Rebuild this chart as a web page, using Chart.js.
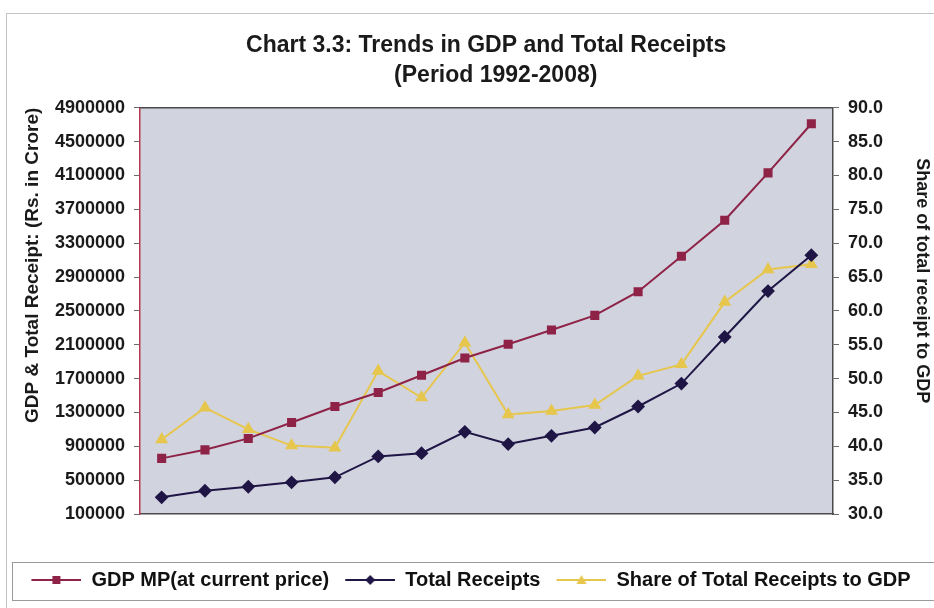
<!DOCTYPE html>
<html>
<head>
<meta charset="utf-8">
<script src="https://cdn.jsdelivr.net/npm/chart.js@4"></script>
<style>
  html, body { margin: 0; padding: 0; background: #fff; }
  #wrap { width: 934px; height: 608px; }
</style>
</head>
<body>
<div id="wrap"><canvas id="gdpChart" width="934" height="608"></canvas></div>
<script>
// data
var years = ['1992-93', '1993-94', '1994-95', '1995-96', '1996-97', '1997-98', '1998-99', '1999-00',
             '2000-01', '2001-02', '2002-03', '2003-04', '2004-05', '2005-06', '2006-07', '2007-08'];
var gdpMP = [757000, 858000, 993000, 1181000, 1370000, 1535000, 1739000, 1943000,
             2105000, 2274000, 2447000, 2726000, 3146000, 3571000, 4130000, 4711000];
var totalReceipts = [297000, 375000, 422000, 474000, 533000, 780000, 819000, 1071000,
                     926000, 1024000, 1122000, 1370000, 1641000, 2191000, 2734000, 3158000];
var shareOfGdp = [41.0, 45.7, 42.5, 40.1, 39.8, 51.1, 47.2, 55.3,
                  44.7, 45.2, 46.1, 50.4, 52.1, 61.3, 66.1, 66.9];
var leftTicks = { min: 100000, max: 4900000, step: 400000 };
var rightTicks = { min: 30, max: 90, step: 5 };

var FONT = "'Liberation Sans', Arial, sans-serif";
var maroon = '#8e2347';
var navy = '#1f1646';
var yellow = '#e6c64c';

// little line+marker pictures for the legend
function legendIcon(color, shape) {
    var c = document.createElement('canvas');
    c.width = 58; c.height = 14;
    var g = c.getContext('2d');
    g.strokeStyle = color;
    g.lineWidth = 2;
    g.beginPath();
    g.moveTo(8, 7); g.lineTo(58, 7);
    g.stroke();
    g.fillStyle = color;
    g.beginPath();
    if (shape === 'rect') {
        g.rect(29, 3, 8, 8);
    } else if (shape === 'diamond') {
        g.moveTo(33, 2); g.lineTo(38, 7); g.lineTo(33, 12); g.lineTo(28, 7);
    } else {
        g.moveTo(33, 2); g.lineTo(38, 11); g.lineTo(28, 11);
    }
    g.closePath();
    g.fill();
    return c;
}
var icons = [legendIcon(maroon, 'rect'), legendIcon(navy, 'diamond'), legendIcon(yellow, 'tri')];

var framePlugin = {
    id: 'frame',
    beforeDraw: function(chart) {
        var ctx = chart.ctx, a = chart.chartArea;
        ctx.save();
        ctx.fillStyle = '#ffffff';
        ctx.fillRect(0, 0, chart.width, chart.height);
        ctx.strokeStyle = '#c4c4c4';
        ctx.lineWidth = 1;
        ctx.strokeRect(6.5, 13.5, 1000, 1000);
        ctx.fillStyle = '#d1d3de';
        ctx.fillRect(a.left, a.top, a.right - a.left, a.bottom - a.top);
        ctx.restore();
    },
    afterDraw: function(chart) {
        var ctx = chart.ctx, a = chart.chartArea, lg = chart.legend;
        ctx.save();
        ctx.strokeStyle = '#4a4a4a';
        ctx.lineWidth = 1.5;
        ctx.beginPath();
        ctx.moveTo(a.left, a.top); ctx.lineTo(a.right, a.top);
        ctx.stroke();
        ctx.strokeStyle = '#9a9a9a';
        ctx.lineWidth = 1;
        ctx.strokeRect(12.5, Math.round(lg.top) + 0.5, 1000, Math.round(lg.height));
        ctx.restore();
    }
};

var ctx = document.getElementById('gdpChart').getContext('2d');
var gdpChart = new Chart(ctx, {
    type: 'line',
    data: {
        labels: years,
        datasets: [
            {
                label: 'GDP MP(at current price)',
                data: gdpMP,
                yAxisID: 'y',
                borderColor: maroon,
                backgroundColor: maroon,
                borderWidth: 2,
                pointStyle: 'rect',
                pointRadius: 5,
                tension: 0
            },
            {
                label: 'Total Receipts',
                data: totalReceipts,
                yAxisID: 'y',
                borderColor: navy,
                backgroundColor: navy,
                borderWidth: 2,
                pointStyle: 'rectRot',
                pointRadius: 5.5,
                tension: 0
            },
            {
                label: 'Share of Total Receipts to GDP',
                data: shareOfGdp,
                yAxisID: 'y1',
                borderColor: yellow,
                backgroundColor: yellow,
                borderWidth: 2,
                pointStyle: 'triangle',
                pointRadius: 5.5,
                tension: 0
            }
        ]
    },
    options: {
        responsive: false,
        animation: false,
        layout: { padding: { left: 0, right: 0, top: 0, bottom: 8 } },
        plugins: {
            tooltip: { enabled: false },
            title: {
                display: true,
                // leading spaces nudge the title right of centre, as in the picture
                text: ['      Chart 3.3: Trends in GDP and Total Receipts', '         (Period 1992-2008)'],
                color: '#1a1a1a',
                font: { family: FONT, size: 23, weight: 'bold', lineHeight: 1.32 },
                padding: { top: 30, bottom: 17 }
            },
            legend: {
                position: 'bottom',
                labels: {
                    usePointStyle: true,
                    pointStyleWidth: 58,
                    padding: 8,
                    color: '#111',
                    font: { family: FONT, size: 20, weight: 'bold' },
                    generateLabels: function(chart) {
                        var items = Chart.defaults.plugins.legend.labels.generateLabels(chart);
                        items.forEach(function(it, i) { it.pointStyle = icons[i]; });
                        return items;
                    }
                }
            }
        },
        scales: {
            x: {
                type: 'category',
                offset: true,
                ticks: { display: false },
                grid: { display: false },
                border: { display: true, color: '#4a4a4a', width: 1.5 },
                afterFit: function(s) { s.height = 48; }
            },
            y: {
                position: 'left',
                min: leftTicks.min,
                max: leftTicks.max,
                ticks: {
                    stepSize: leftTicks.step,
                    padding: 9,
                    color: '#1a1a1a',
                    font: { family: FONT, size: 18, weight: 'bold' },
                    callback: function(v) { return String(v); }
                },
                grid: { drawOnChartArea: false, tickLength: 6, color: '#6a6a6a' },
                border: { display: true, color: '#b43a4e', width: 1.5 },
                title: {
                    display: true,
                    align: 'end',
                    text: 'GDP & Total Receipt: (Rs. in Crore)',
                    color: '#1a1a1a',
                    font: { family: FONT, size: 19, weight: 'bold' },
                    padding: { top: 21, bottom: 0 }
                },
                afterFit: function(s) { s.width = 140; }
            },
            y1: {
                position: 'right',
                min: rightTicks.min,
                max: rightTicks.max,
                ticks: {
                    stepSize: rightTicks.step,
                    padding: 9,
                    color: '#1a1a1a',
                    font: { family: FONT, size: 18, weight: 'bold' },
                    callback: function(v) { return Number(v).toFixed(1); }
                },
                grid: { drawOnChartArea: false, tickLength: 6, color: '#6a6a6a' },
                border: { display: true, color: '#4a4a4a', width: 1.5 },
                title: {
                    display: true,
                    // trailing spaces lift the title a little above the middle, as in the picture
                    text: 'Share of total receipt to GDP            ',
                    color: '#1a1a1a',
                    font: { family: FONT, size: 18, weight: 'bold' },
                    padding: { top: 1, bottom: 0 }
                },
                afterFit: function(s) { s.width = 101; }
            }
        }
    },
    plugins: [framePlugin]
});
</script>
</body>
</html>
